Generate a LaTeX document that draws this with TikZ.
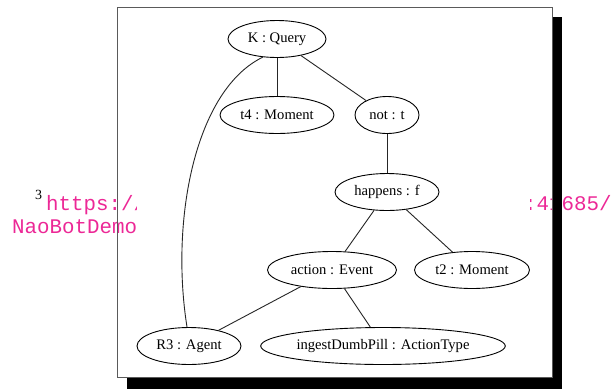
\documentclass[tikz,border=0pt]{standalone}
\usepackage{fontspec}
\setmainfont{Liberation Serif}
\newfontfamily\urlfont{Liberation Mono}
\usetikzlibrary{shapes.geometric}
\definecolor{urlpink}{RGB}{236,40,150}
\definecolor{framegray}{RGB}{90,90,90}
\tikzset{
  cls/.style={ellipse, draw, line width=0.9pt, inner sep=0pt, minimum height=37,
    font=\fontsize{14.6}{17}\selectfont},
  link/.style={line width=0.9pt, draw=black!85},
  urltext/.style={text=urlpink, inner sep=0pt, anchor=base west,
    font=\urlfont\fontsize{20.8}{23}\selectfont}
}
\begin{document}
\begin{tikzpicture}[x=1pt, y=-1pt]
  \useasboundingbox (0,0) rectangle (613,389);

  % Footnote text behind the figure
  \node[inner sep=0pt, anchor=base west, font=\fontsize{14}{16}\selectfont] (fnmark) at (35,199.5) {3};
  \node[urltext] (urlleft) at (46,210) {https://};
  \node[urltext] (urlright) at (524,210) {:41685/};
  \node[urltext] (urlname) at (12,233) {NaoBotDemo};

  % Figure area and shadow
  \fill[white] (137,8) rectangle (530,376);
  \fill[black] (552,17) rectangle (562,389);
  \fill[black] (127,377) rectangle (562,389);
  \draw[framegray, line width=1pt] (117,7) rectangle (552,377);

  % Nodes
  \node[cls, minimum width=98] (K) at (277,39) {K : Query};
  \node[cls, minimum width=114] (t4) at (277,115) {t4 : Moment};
  \node[cls, minimum width=64] (nott) at (387,115) {not : t};
  \node[cls, minimum width=104] (happens) at (387,192) {happens : f};
  \node[cls, minimum width=129] (action) at (332,270) {action : Event};
  \node[cls, minimum width=115] (t2) at (472,270) {t2 : Moment};
  \node[cls, minimum width=104] (R3) at (189,346) {R3 : Agent};
  \node[cls, minimum width=243] (ingest) at (383,346) {ingestDumbPill : ActionType};

  % Links
  \draw[link] (K) -- (t4);
  \draw[link] (K) -- (nott);
  \draw[link] (nott) -- (happens);
  \draw[link] (happens) -- (action);
  \draw[link] (happens) -- (t2);
  \draw[link] (action) -- (R3);
  \draw[link] (action) -- (ingest);
  \draw[link] (K.232) .. controls (195,90) and (170,220) .. (R3.96);
\end{tikzpicture}
\end{document}
